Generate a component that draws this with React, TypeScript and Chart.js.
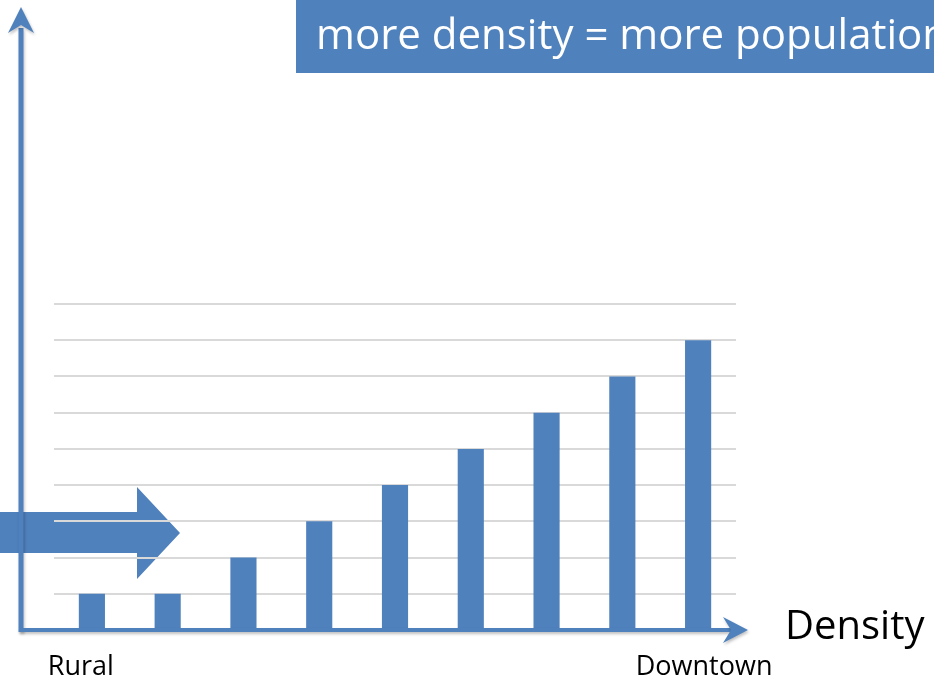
import React, { useEffect, useRef } from "react";
import { Chart, registerables } from "chart.js";

Chart.register(...registerables);

const categories = ["Rural", "", "", "", "", "", "", "", "Downtown"];
const populationValues = [1, 1, 2, 3, 4, 5, 6, 7, 8];
const yTicks = [0, 1, 2, 3, 4, 5, 6, 7, 8, 9];
const titleText = "more density = more population";
const axisText = "Density";

const BLUE = "#4f81bd";

const decorPlugin = {
  id: "decor",
  beforeDraw(chart: any) {
    const ctx = chart.ctx as CanvasRenderingContext2D;
    ctx.save();
    ctx.fillStyle = BLUE;
    ctx.beginPath();
    ctx.moveTo(0, 512);
    ctx.lineTo(137, 512);
    ctx.lineTo(137, 487);
    ctx.lineTo(180, 533);
    ctx.lineTo(137, 579);
    ctx.lineTo(137, 553);
    ctx.lineTo(0, 553);
    ctx.closePath();
    ctx.fill();
    ctx.restore();
  },
  afterDraw(chart: any) {
    const ctx = chart.ctx as CanvasRenderingContext2D;
    const x = chart.scales.x;
    const bottom = chart.chartArea.bottom;
    ctx.save();
    // axes with subtle shadow
    ctx.shadowColor = "rgba(0,0,0,0.25)";
    ctx.shadowBlur = 3;
    ctx.shadowOffsetX = 1;
    ctx.shadowOffsetY = 2;
    ctx.fillStyle = BLUE;
    ctx.strokeStyle = BLUE;
    // vertical axis
    ctx.lineWidth = 5;
    ctx.beginPath();
    ctx.moveTo(21, bottom + 2);
    ctx.lineTo(21, 28);
    ctx.stroke();
    ctx.beginPath();
    ctx.moveTo(21, 7);
    ctx.lineTo(34, 33);
    ctx.lineTo(21, 25);
    ctx.lineTo(8, 33);
    ctx.closePath();
    ctx.fill();
    // horizontal axis
    ctx.lineWidth = 4;
    ctx.beginPath();
    ctx.moveTo(19, bottom);
    ctx.lineTo(733, bottom);
    ctx.stroke();
    ctx.beginPath();
    ctx.moveTo(748, bottom);
    ctx.lineTo(723, bottom + 13);
    ctx.lineTo(731, bottom);
    ctx.lineTo(723, bottom - 13);
    ctx.closePath();
    ctx.fill();
    ctx.shadowColor = "transparent";
    // title box
    ctx.fillStyle = BLUE;
    ctx.fillRect(296, 0, 638, 73);
    ctx.fillStyle = "#ffffff";
    ctx.font = "42px 'Open Sans'";
    ctx.textBaseline = "alphabetic";
    ctx.textAlign = "left";
    ctx.fillText(titleText, 316, 49);
    // axis label
    ctx.fillStyle = "#000000";
    ctx.font = "40px 'Open Sans'";
    ctx.fillText(axisText, 785, 639);
    // category labels
    ctx.font = "27px 'Open Sans'";
    ctx.textAlign = "center";
    categories.forEach((c, i) => {
      if (!c) return;
      const px = x.getPixelForValue(i);
      const off = i === 0 ? -11 : 6;
      ctx.fillText(c, px + off, 675);
    });
    ctx.restore();
  },
};

export default function App() {
  const ref = useRef<HTMLCanvasElement>(null);
  useEffect(() => {
    if (!ref.current) return;
    const chart = new Chart(ref.current, {
      type: "bar",
      data: {
        labels: categories,
        datasets: [
          {
            data: populationValues,
            backgroundColor: BLUE,
            borderWidth: 0,
            barPercentage: 0.345,
            categoryPercentage: 1,
          },
        ],
      },
      options: {
        animation: false,
        responsive: false,
        events: [],
        layout: { padding: { left: 54, top: 304, right: 198, bottom: 50 } },
        plugins: { legend: { display: false }, tooltip: { enabled: false }, title: { display: false } },
        scales: {
          x: { display: false },
          y: {
            min: yTicks[0],
            max: yTicks[yTicks.length - 1],
            ticks: { display: false, stepSize: 1 },
            grid: { color: "#d9d9d9", lineWidth: 2, drawTicks: false },
            border: { display: false },
          },
        },
      },
      plugins: [decorPlugin],
    });
    return () => chart.destroy();
  }, []);
  return (
    <div style={{ position: "absolute", left: 0, top: 0, width: 934, height: 680, background: "#fff" }}>
      <canvas ref={ref} width={934} height={680} style={{ display: "block" }} />
    </div>
  );
}
